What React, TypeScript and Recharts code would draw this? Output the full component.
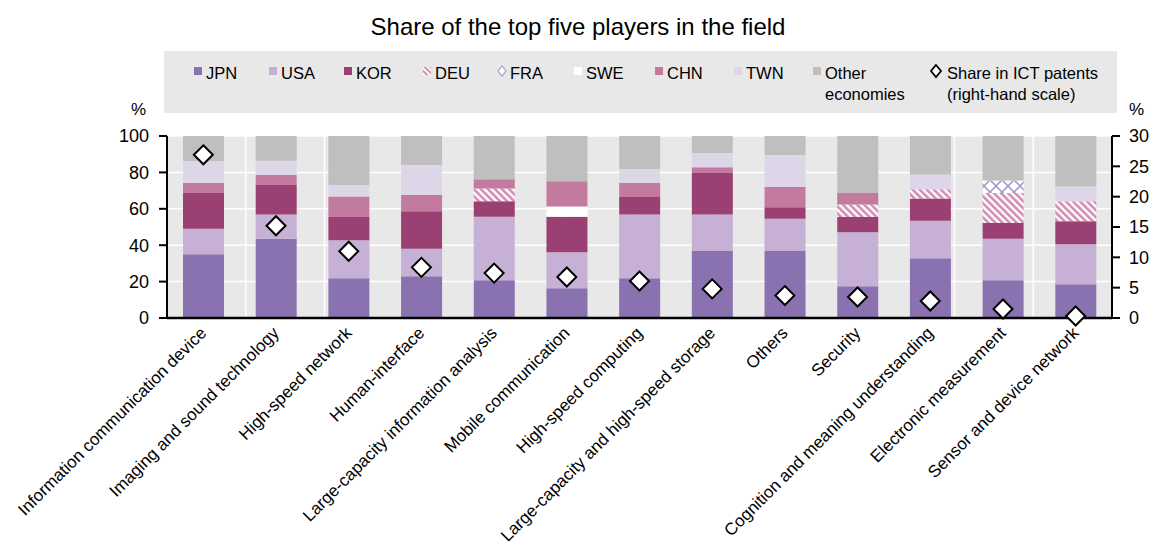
import React from 'react';
import { ComposedChart, Bar, Line, XAxis, YAxis, CartesianGrid } from 'recharts';

const categories = [
  'Information communication device',
  'Imaging and sound technology',
  'High-speed network',
  'Human-interface',
  'Large-capacity information analysis',
  'Mobile communication',
  'High-speed computing',
  'Large-capacity and high-speed  storage',
  'Others',
  'Security',
  'Cognition and meaning understanding',
  'Electronic measurement',
  'Sensor and device network',
];

const jpn = [35.0, 43.6, 21.8, 22.9, 20.7, 16.3, 21.8, 36.8, 36.8, 17.4, 32.8, 20.7, 18.5];
const usa = [14.1, 13.2, 20.9, 15.2, 35.0, 19.8, 35.0, 20.0, 17.8, 29.7, 20.7, 22.9, 22.0];
const kor = [19.6, 16.3, 12.8, 20.5, 8.4, 19.6, 9.7, 22.9, 6.2, 8.4, 12.1, 8.6, 12.6];
const deu = [0, 0, 0, 0, 7.0, 0, 0, 0, 0, 6.8, 5.1, 16.5, 11.0];
const fra = [0, 0, 0, 0, 0, 0, 0, 0, 0, 0, 0, 6.8, 0];
const swe = [0, 0, 0, 0, 0, 5.5, 0, 0, 0, 0, 0, 0, 0];
const chn = [5.5, 5.5, 11.2, 9.0, 5.1, 13.9, 7.7, 3.1, 11.2, 6.4, 0, 0, 0];
const twn = [12.1, 7.8, 6.4, 16.5, 0, 0, 7.7, 7.9, 17.6, 0, 8.1, 0, 8.1];
const other = [13.7, 13.6, 26.9, 15.9, 23.8, 24.9, 18.1, 9.3, 10.4, 31.3, 21.2, 24.5, 27.8];
const ictShare = [26.9, 15.2, 11.0, 8.35, 7.4, 6.76, 6.1, 4.8, 3.7, 3.46, 2.8, 1.48, 0.33];

const leftTicks = [0, 20, 40, 60, 80, 100];
const rightTicks = [0, 5, 10, 15, 20, 25, 30];
const boundaryTicks = [0, 1, 2, 3, 4, 5, 6, 7, 8, 9, 10, 11, 12, 13];

const data = categories.map((name, i) => ({
  name,
  JPN: jpn[i],
  USA: usa[i],
  KOR: kor[i],
  DEU: deu[i],
  FRA: fra[i],
  SWE: swe[i],
  CHN: chn[i],
  TWN: twn[i],
  Other: other[i],
  share: ictShare[i],
}));

const FONT = '"Liberation Sans", Arial, sans-serif';
const C = {
  JPN: '#8a72b0',
  USA: '#c7b0d5',
  KOR: '#9b4073',
  DEU: 'url(#deuPattern)',
  FRA: 'url(#fraPattern)',
  SWE: '#ffffff',
  CHN: '#c27a9f',
  TWN: '#ddd6e8',
  Other: '#bfbfbf',
};

const series = ['JPN', 'USA', 'KOR', 'DEU', 'FRA', 'SWE', 'CHN', 'TWN', 'Other'];

const CatTick = (props: any) => {
  const { x, y, payload } = props;
  return (
    <g transform={`translate(${x + 4},${y + 16})`}>
      <text transform="rotate(-45)" textAnchor="end" fontSize={17} fontFamily={FONT} fill="#000">
        {payload.value}
      </text>
    </g>
  );
};

const Diamond = (props: any) => {
  const { cx, cy } = props;
  if (cx == null || cy == null) return null;
  const r = 9.5;
  return (
    <path
      d={`M${cx},${cy - r} L${cx + r},${cy} L${cx},${cy + r} L${cx - r},${cy} Z`}
      fill="#fff"
      stroke="#000"
      strokeWidth={2}
    />
  );
};

const Patterns = () => (
  <defs>
    <pattern id="deuPattern" patternUnits="userSpaceOnUse" width="5" height="5" patternTransform="rotate(-45)">
      <rect width="5" height="5" fill="#ffffff" />
      <rect width="2.6" height="5" fill="#d38bb3" />
    </pattern>
    <pattern id="fraPattern" patternUnits="userSpaceOnUse" width="12" height="12">
      <rect width="12" height="12" fill="#ffffff" />
      <path d="M0 6 L6 0 L12 6 L6 12 Z" fill="none" stroke="#a898d0" strokeWidth="1.6" />
    </pattern>
  </defs>
);

const legendItems = [
  { key: 'JPN', label: ['JPN'], x: 194 },
  { key: 'USA', label: ['USA'], x: 269 },
  { key: 'KOR', label: ['KOR'], x: 344 },
  { key: 'DEU', label: ['DEU'], x: 423 },
  { key: 'FRA', label: ['FRA'], x: 498 },
  { key: 'SWE', label: ['SWE'], x: 574 },
  { key: 'CHN', label: ['CHN'], x: 655 },
  { key: 'TWN', label: ['TWN'], x: 734 },
  { key: 'Other', label: ['Other', 'economies'], x: 813 },
];

export default function App() {
  return (
    <div style={{ position: 'absolute', left: 0, top: 0, width: 1151, height: 550, background: '#fff', fontFamily: FONT }}>
      <div style={{ position: 'absolute', left: 0, top: 13, width: 1156, textAlign: 'center', fontSize: 24, color: '#000' }}>
        Share of the top five players in the field
      </div>
      <div style={{ position: 'absolute', left: 164, top: 51, width: 953, height: 62, background: '#e8e8e8' }} />
      <svg style={{ position: 'absolute', left: 0, top: 0 }} width={1151} height={130}>
        <defs>
          <pattern id="deuLeg" patternUnits="userSpaceOnUse" width="4" height="4" patternTransform="rotate(-45)">
            <rect width="4" height="4" fill="#ffffff" />
            <rect width="2" height="4" fill="#d38bb3" />
          </pattern>
        </defs>
        {legendItems.map((it) => {
          let marker;
          if (it.key === 'DEU') {
            marker = <rect x={it.x} y={67} width={8} height={8} fill="url(#deuLeg)" />;
          } else if (it.key === 'FRA') {
            marker = (
              <path d={`M${it.x + 4},${66} L${it.x + 8},${71} L${it.x + 4},${76} L${it.x},${71} Z`} fill="#fff" stroke="#a898d0" strokeWidth={1.2} />
            );
          } else {
            marker = <rect x={it.x} y={67} width={8} height={8} fill={(C as any)[it.key]} />;
          }
          return (
            <g key={it.key}>
              {marker}
              {it.label.map((l, j) => (
                <text key={j} x={it.x + 12} y={79 + j * 21} fontSize={16.5} fontFamily={FONT} fill="#000">
                  {l}
                </text>
              ))}
            </g>
          );
        })}
        <path d="M936,65 L941,71 L936,77 L931,71 Z" fill="#fff" stroke="#000" strokeWidth={1.8} />
        <text x={947} y={79} fontSize={16.5} fontFamily={FONT} fill="#000">Share in ICT patents</text>
        <text x={947} y={100} fontSize={16.5} fontFamily={FONT} fill="#000">(right-hand scale)</text>
        <text x={146} y={115} textAnchor="end" fontSize={17} fontFamily={FONT} fill="#000">%</text>
        <text x={1129} y={115} fontSize={17} fontFamily={FONT} fill="#000">%</text>
      </svg>
      <div style={{ position: 'absolute', left: 0, top: 0 }}>
        <ComposedChart width={1151} height={550} data={data} margin={{ top: 136, right: 0, bottom: 0, left: 0 }}>
          <Patterns />
          <CartesianGrid xAxisId="bnd" yAxisId="left" fill="#e8e8e8" stroke="#ffffff" strokeWidth={1.5} />
          <XAxis
            dataKey="name"
            height={232}
            interval={0}
            tickLine={false}
            tickSize={0}
            tickMargin={0}
            axisLine={{ stroke: '#000', strokeWidth: 2.5 }}
            tick={<CatTick />}
          />
          <XAxis
            xAxisId="bnd"
            type="number"
            domain={[0, 13]}
            ticks={boundaryTicks}
            orientation="bottom"
            mirror
            axisLine={false}
            tickSize={5}
            tickLine={{ stroke: '#000', strokeWidth: 2 }}
            tickFormatter={() => ''}
            height={0}
          />
          <YAxis
            yAxisId="left"
            domain={[0, 100]}
            ticks={leftTicks}
            width={167}
            tickSize={8}
            tickMargin={10}
            axisLine={{ stroke: '#000', strokeWidth: 2 }}
            tickLine={{ stroke: '#000', strokeWidth: 2 }}
            tick={{ fontSize: 18, fontFamily: FONT, fill: '#000' }}
          />
          <YAxis
            yAxisId="right"
            orientation="right"
            domain={[0, 30]}
            ticks={rightTicks}
            width={39}
            tickSize={8}
            tickMargin={9}
            axisLine={{ stroke: '#000', strokeWidth: 2 }}
            tickLine={{ stroke: '#000', strokeWidth: 2 }}
            tick={{ fontSize: 18, fontFamily: FONT, fill: '#000', textAnchor: 'start' }}
          />
          {series.map((s) => (
            <Bar key={s} dataKey={s} stackId="a" yAxisId="left" barSize={41} fill={(C as any)[s]} isAnimationActive={false} />
          ))}
          <Line
            dataKey="share"
            yAxisId="right"
            stroke="none"
            dot={<Diamond />}
            activeDot={false}
            isAnimationActive={false}
          />
        </ComposedChart>
      </div>
    </div>
  );
}
